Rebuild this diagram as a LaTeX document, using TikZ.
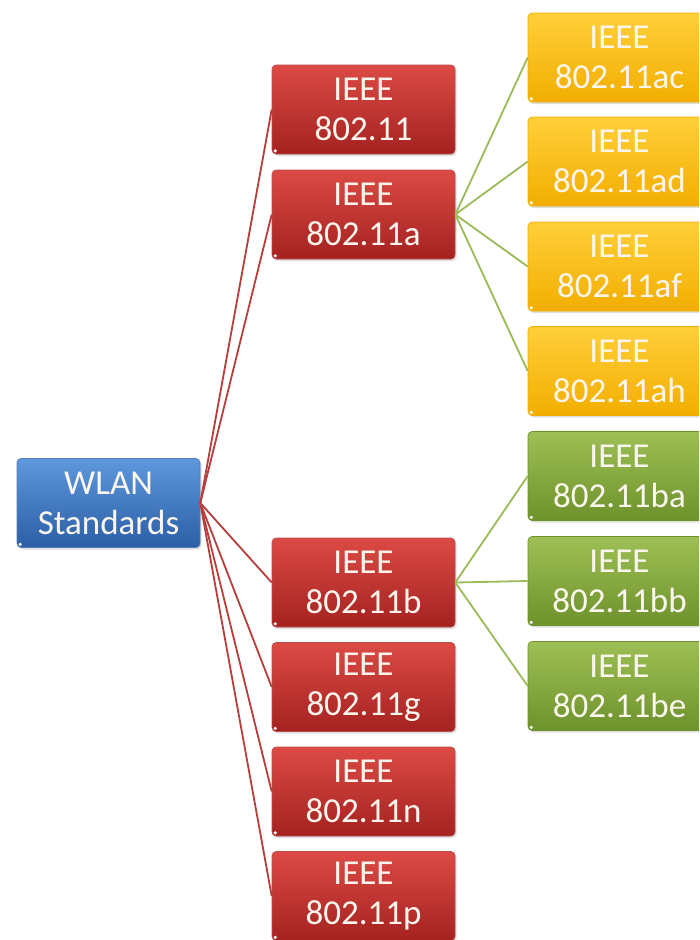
\documentclass[tikz,border=0pt]{standalone}
\usepackage{fontspec}
\setmainfont{Carlito}
\usetikzlibrary{shadows}
\definecolor{rtop}{HTML}{DC4A45}
\definecolor{rmid}{HTML}{C0302D}
\definecolor{rbot}{HTML}{A42220}
\definecolor{btop}{HTML}{5E98DC}
\definecolor{bmid}{HTML}{3A76C4}
\definecolor{bbot}{HTML}{2B5EA6}
\definecolor{ytop}{HTML}{FFCF3A}
\definecolor{ymid}{HTML}{FFBE00}
\definecolor{ybot}{HTML}{F2AE00}
\definecolor{gtop}{HTML}{9DBF55}
\definecolor{gmid}{HTML}{86AA3E}
\definecolor{gbot}{HTML}{6E922C}
\definecolor{redline}{HTML}{B83E3B}
\definecolor{greenline}{HTML}{9BBB59}
\definecolor{txt}{HTML}{FAF6EE}
\tikzset{
  box/.style={rounded corners=4pt, minimum width=183pt, minimum height=89pt,
    inner sep=0pt, align=center, text=txt,
    font=\fontsize{35}{40}\selectfont,
    drop shadow={opacity=0.25, shadow xshift=1.5pt, shadow yshift=-2pt}},
  bluebox/.style={box, top color=btop, middle color=bmid, bottom color=bbot, draw=bbot!80, line width=0.6pt},
  redbox/.style={box, top color=rtop, middle color=rmid, bottom color=rbot, draw=rbot!80, line width=0.6pt},
  yelbox/.style={box, top color=ytop, middle color=ymid, bottom color=ybot, draw=ybot, line width=0.6pt},
  grnbox/.style={box, top color=gtop, middle color=gmid, bottom color=gbot, draw=gbot, line width=0.6pt},
  rededge/.style={draw=redline, line width=1.8pt},
  grnedge/.style={draw=greenline, line width=1.8pt},
  dot/.style={fill=white, circle, inner sep=0pt, minimum size=3.5pt}
}
\begin{document}
\begin{tikzpicture}[x=1pt,y=-1pt]
\clip (0,0) rectangle (699,940);
\fill[white] (0,0) rectangle (699,940);
% root
\node[bluebox] (root) at (108.5,503) {WLAN\\Standards};
% red level
\node[redbox] (r0) at (363.5,109.5) {IEEE\\802.11};
\node[redbox] (r1) at (363.5,214.5) {IEEE\\802.11a};
\node[redbox] (r2) at (363.5,582.5) {IEEE\\802.11b};
\node[redbox] (r3) at (363.5,687) {IEEE\\802.11g};
\node[redbox] (r4) at (363.5,791.5) {IEEE\\802.11n};
\node[redbox] (r5) at (363.5,896) {IEEE\\802.11p};
% yellow level
\node[yelbox] (y0) at (619.5,57.5) {IEEE\\802.11ac};
\node[yelbox] (y1) at (619.5,161.5) {IEEE\\802.11ad};
\node[yelbox] (y2) at (619.5,266.5) {IEEE\\802.11af};
\node[yelbox] (y3) at (619.5,371) {IEEE\\802.11ah};
% green level
\node[grnbox] (g0) at (619.5,476) {IEEE\\802.11ba};
\node[grnbox] (g1) at (619.5,581) {IEEE\\802.11bb};
\node[grnbox] (g2) at (619.5,686) {IEEE\\802.11be};
% corner dots
\foreach \n in {root,r0,r1,r2,r3,r4,r5,y0,y1,y2,y3,g0,g1,g2}{
  \node[dot] at ([xshift=3.5pt,yshift=3.5pt]\n.south west) {};
}
% edges
\foreach \n in {r0,r1,r2,r3,r4,r5}{
  \path[rededge] (root.east) -- (\n.west);
}
\foreach \n in {y0,y1,y2,y3}{
  \path[grnedge] (r1.east) -- (\n.west);
}
\foreach \n in {g0,g1,g2}{
  \path[grnedge] (r2.east) -- (\n.west);
}
\end{tikzpicture}
\end{document}
